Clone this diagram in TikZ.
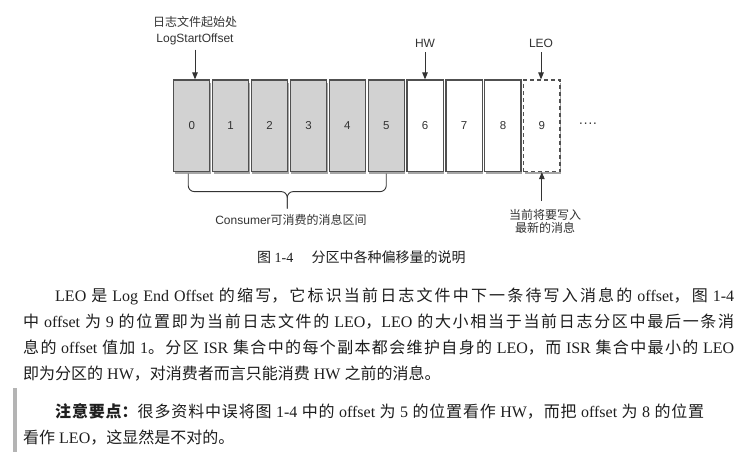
\documentclass[tikz,border=0pt]{standalone}
\usepackage{fontspec}
\setmainfont{Liberation Serif}
\setsansfont{Liberation Sans}
\newfontfamily\cjkfont{Noto Sans CJK SC}
\usetikzlibrary{arrows.meta,shadows,calc}

% switch to the CJK family automatically for every run of CJK characters
\XeTeXinterchartokenstate=1
\newXeTeXintercharclass\cjkclass
\newcount\cjkcode
\newcommand\markcjkrange[2]{%
  \cjkcode=#1\relax
  \loop
    \XeTeXcharclass\cjkcode=\cjkclass
    \ifnum\cjkcode<#2\relax
    \advance\cjkcode by 1
  \repeat}
\markcjkrange{"3000}{"303F}
\markcjkrange{"4E00}{"9FFF}
\markcjkrange{"FF00}{"FFEF}
\XeTeXinterchartoks 0 \cjkclass = {\begingroup\cjkfont}
\XeTeXinterchartoks 4095 \cjkclass = {\begingroup\cjkfont}
\XeTeXinterchartoks \cjkclass 0 = {\endgroup}
\XeTeXinterchartoks \cjkclass 4095 = {\endgroup}
\XeTeXlinebreaklocale "zh"
\XeTeXlinebreakskip=0pt plus 4pt minus 1pt

\definecolor{ink}{HTML}{1E1E1E}
\definecolor{diag}{HTML}{333333}
\definecolor{cellgray}{HTML}{D2D2D2}
\definecolor{celledge}{HTML}{505050}
\definecolor{barcol}{HTML}{B4B4B4}

\newcommand\diagfont{\sffamily\fontsize{12}{16}\selectfont}
\newcommand\digitfont{\sffamily\fontsize{11.5}{14}\selectfont}
\newcommand\bodyfont{\rmfamily\fontsize{16}{26}\selectfont}
\newcommand\capfont{\rmfamily\fontsize{14}{17}\selectfont}
% one fully justified line of running text
\newcommand\jline[1]{\noindent\tolerance=10000\rightskip=0pt\leftskip=0pt\parfillskip=0pt\relax#1\par}

\begin{document}
\begin{tikzpicture}[x=1pt,y=-1pt,
  cell/.style={draw=celledge, line width=1.2pt, minimum width=36.2pt,
    minimum height=91.5pt, inner sep=0pt, font=\digitfont, text=diag,
    drop shadow={shadow xshift=1pt, shadow yshift=-2.5pt, opacity=0.35, fill=black}},
  used/.style={cell, fill=cellgray},
  free/.style={cell, fill=white},
  nextcell/.style={cell, fill=white, dash pattern=on 4pt off 3pt},
  lbl/.style={inner sep=0pt, font=\diagfont, text=diag},
  arr/.style={draw=diag, line width=1pt, -{Triangle[length=7pt,width=5.5pt]}},
  brc/.style={draw=diag, line width=0.9pt, rounded corners=6pt},
  bodyline/.style={anchor=base west, inner sep=0pt, font=\bodyfont, text=ink,
    align=justify, text width=#1},
  lastline/.style={anchor=base west, inner sep=0pt, font=\bodyfont, text=ink}]

\fill[white] (0,0) rectangle (752,452);
\useasboundingbox (0,0) rectangle (752,452);

% the log segment
\foreach \i in {0,...,5}
  \node[used] (b\i) at ({191.75+38.9*\i},125.75) {\i};
\foreach \i in {6,7,8}
  \node[free] (b\i) at ({191.75+38.9*\i},125.75) {\i};
\node[nextcell] (b9) at ({191.75+38.9*9},125.75) {9};
\node[lbl, font=\sffamily\fontsize{14}{14}\selectfont] (more) at (588,125) {····};

% offset markers
\node[lbl, align=center] (lso) at (195,31) {日志文件起始处\\LogStartOffset};
\draw[arr] ([yshift=-4pt]lso.south) -- (lso.south |- b0.north);

\node[lbl] (hw) at (425,43) {HW};
\draw[arr] ([yshift=-5pt]hw.south) -- (hw.south |- b6.north);

\node[lbl] (leo) at (541,43) {LEO};
\draw[arr] ([yshift=-5pt]leo.south) -- (leo.south |- b9.north);

\node[lbl, align=center, font=\sffamily\fontsize{12}{13.5}\selectfont] (newmsg)
  at (545,221.5) {当前将要写入\\最新的消息};
\draw[arr] ($(b9.south |- newmsg.north)+(0,-8)$) -- (b9.south);

% consumable range
\coordinate (brL) at ($(b0.south)+(-3.5,1.5)$);
\coordinate (brR) at ($(b5.south)+(0,1.5)$);
\coordinate (brTip) at ($(brL)!0.5!(brR)+(0,35)$);
\draw[brc] (brL) -- ++(0,18) -- ($(brTip)+(0,-17)$) -- (brTip);
\draw[brc] (brR) -- ++(0,18) -- ($(brTip)+(0,-17)$) -- (brTip);
\node[lbl] (cons) at (291,220) {Consumer可消费的消息区间};

% caption
\node[anchor=west, inner sep=0pt, font=\capfont, text=ink] (cap) at (257,257)
  {图 1-4\hspace{1.3em}分区中各种偏移量的说明};

% running text
\node[bodyline=679pt] (l1) at (55,301)
  {\jline{LEO 是 Log End Offset 的缩写，它标识当前日志文件中下一条待写入消息的 offset，图 1-4}};
\node[bodyline=711pt] (l2) at (23,327)
  {\jline{中 offset 为 9 的位置即为当前日志文件的 LEO，LEO 的大小相当于当前日志分区中最后一条消}};
\node[bodyline=711pt] (l3) at (23,353)
  {\jline{息的 offset 值加 1。分区 ISR 集合中的每个副本都会维护自身的 LEO，而 ISR 集合中最小的 LEO}};
\node[lastline] (l4) at (23,379) {即为分区的 HW，对消费者而言只能消费 HW 之前的消息。};

% note block
\fill[barcol] (13,388) rectangle (17,452);
\node[bodyline=649pt] (n1) at (55,417)
  {\jline{{\bfseries 注意要点：}很多资料中误将图 1-4 中的 offset 为 5 的位置看作 HW，而把 offset 为 8 的位置}};
\node[lastline] (n2) at (23,443) {看作 LEO，这显然是不对的。};
\end{tikzpicture}
\end{document}
